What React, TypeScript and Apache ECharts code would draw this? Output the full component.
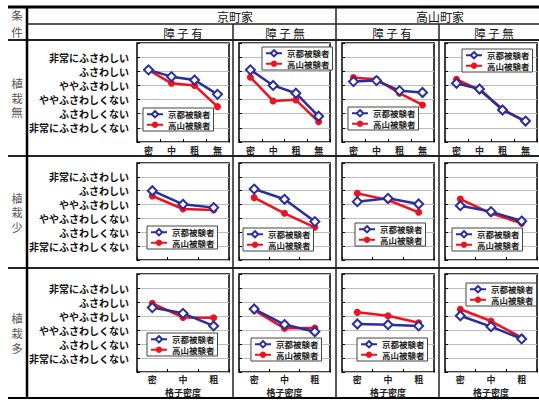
import React, { useEffect, useRef } from 'react';
import * as echarts from 'echarts';

const FONT = '"Noto Sans CJK JP", "Noto Sans", sans-serif';
const BLUE = '#2a2e9c';
const RED = '#f0101e';

const houses = ['京町家', '高山町家'];
const shojiLabels = ['障 子 有', '障 子 無', '障 子 有', '障 子 無'];
const conditionLabel = ['条', '件'];
const plantLabels = [['植', '栽', '無'], ['植', '栽', '少'], ['植', '栽', '多']];
const densityCats4 = ['密', '中', '粗', '無'];
const densityCats3 = ['密', '中', '粗'];
const ratingLabels = ['非常にふさわしくない', 'ふさわしくない', 'ややふさわしくない', 'ややふさわしい', 'ふさわしい', '非常にふさわしい'];
const seriesNames = ['京都被験者', '高山被験者'];
const xAxisTitle = '格子密度';

// columns: 京町家 障子有, 京町家 障子無, 高山町家 障子有, 高山町家 障子無
// 植栽無
const kyotoPlantNone = [[5.1, 4.62, 4.38, 3.37], [5.1, 4.0, 3.45, 1.82], [4.27, 4.34, 3.63, 3.5], [4.15, 3.75, 2.26, 1.48]];
const takayamaPlantNone = [[5.1, 4.15, 4.0, 2.5], [4.58, 2.9, 2.98, 1.43], [4.55, 4.43, 3.45, 2.62], [4.43, 3.68, 2.33, 1.44]];
// 植栽少
const kyotoPlantFew = [[5.0, 4.02, 3.78], [5.12, 4.38, 2.77], [4.21, 4.45, 4.04], [3.92, 3.49, 2.81]];
const takayamaPlantFew = [[4.62, 3.68, 3.61], [4.5, 3.37, 2.36], [4.81, 4.33, 3.44], [4.4, 3.37, 2.65]];
// 植栽多
const kyotoPlantMany = [[4.6, 4.19, 3.29], [4.5, 3.39, 2.87], [3.43, 3.38, 3.29], [4.02, 3.24, 2.36]];
const takayamaPlantMany = [[4.9, 3.9, 3.88], [4.42, 3.12, 3.14], [4.26, 4.02, 3.52], [4.48, 3.64, 2.45]];

const kyotoRows = [kyotoPlantNone, kyotoPlantFew, kyotoPlantMany];
const takayamaRows = [takayamaPlantNone, takayamaPlantFew, takayamaPlantMany];

// layout
const colX = [[137, 92], [239, 91], [342, 92], [445, 92]];
const rowY = [[43, 99], [163, 97], [274, 98]];
const legendPos = [
  [[143, 108], [262, 47], [348, 107], [462, 49]],
  [[147, 226], [243, 228], [355, 223], [452, 228]],
  [[147, 333], [251, 338], [357, 338], [466, 283]],
];
const plantLabelY = [[83, 97.5, 112], [197.5, 212, 226.5], [318, 333, 347.5]];

function buildOption() {
  const grid: any[] = [];
  const xAxis: any[] = [];
  const yAxis: any[] = [];
  const series: any[] = [];
  const legend: any[] = [];
  for (let r = 0; r < 3; r++) {
    for (let c = 0; c < 4; c++) {
      const idx = r * 4 + c;
      const cats = r === 0 ? densityCats4 : densityCats3;
      grid.push({
        left: colX[c][0], top: rowY[r][0], width: colX[c][1], height: rowY[r][1],
        show: true, borderColor: '#000', borderWidth: 1.5, backgroundColor: '#fff',
      });
      xAxis.push({
        gridIndex: idx, type: 'category', data: cats, boundaryGap: true,
        axisLine: { show: false },
        axisTick: { show: true, inside: true, length: 3, lineStyle: { color: '#000' } },
        axisLabel: { show: r !== 1, fontSize: 9, fontWeight: 'bold', color: '#222', margin: r === 0 ? 4 : 3, fontFamily: FONT },
        name: r === 2 ? xAxisTitle : '', nameLocation: 'middle', nameGap: 16,
        nameTextStyle: { fontSize: 9, fontWeight: 'bold', color: '#222', fontFamily: FONT },
        splitLine: { show: false },
      });
      yAxis.push({
        gridIndex: idx, type: 'value', min: 0, max: 7, interval: 1,
        axisLine: { show: false },
        axisTick: { show: true, inside: true, length: 3, lineStyle: { color: '#000' } },
        axisLabel: {
          show: c === 0, fontSize: 10, fontWeight: 'bold', color: '#111', margin: 8, fontFamily: FONT,
          formatter: (v: number) => (v >= 1 && v <= 6 ? ratingLabels[v - 1] : ''),
        },
        splitLine: { show: true, lineStyle: { color: '#bdbdbd', width: 1 } },
      });
      series.push({
        type: 'line', name: seriesNames[1], xAxisIndex: idx, yAxisIndex: idx,
        data: takayamaRows[r][c], symbol: 'circle', symbolSize: 7,
        lineStyle: { color: RED, width: 2.5 }, itemStyle: { color: RED }, z: 2,
      });
      series.push({
        type: 'line', name: seriesNames[0], xAxisIndex: idx, yAxisIndex: idx,
        data: kyotoRows[r][c], symbol: 'emptyDiamond', symbolSize: 9,
        lineStyle: { color: BLUE, width: 2.5 },
        itemStyle: { color: BLUE, borderColor: BLUE, borderWidth: 2 }, z: 3,
      });
      legend.push({
        left: legendPos[r][c][0], top: legendPos[r][c][1], orient: 'vertical',
        data: seriesNames, itemWidth: 16, itemHeight: 8, itemGap: 2, padding: [2, 3],
        backgroundColor: '#fff', borderColor: '#444', borderWidth: 1,
        textStyle: { fontSize: 8.5, fontWeight: 'bold', color: '#222', fontFamily: FONT }, selectedMode: false,
      });
    }
  }

  const line = (x1: number, y1: number, x2: number, y2: number, w: number, color = '#222') => ({
    type: 'line', shape: { x1, y1, x2, y2 }, style: { stroke: color, lineWidth: w }, z: 10,
  });
  const text = (t: string, x: number, y: number, size: number, color: string) => ({
    type: 'text', x, y, z: 10,
    style: {
      text: t, fill: color, fontSize: size, fontFamily: FONT,
      textAlign: 'center', textVerticalAlign: 'middle', align: 'center', verticalAlign: 'middle',
    },
  });

  const graphic: any[] = [
    line(8, 7, 539, 7, 3, '#000'),
    line(27, 24, 539, 24, 1.5),
    line(8, 40, 539, 40, 2),
    line(8, 156, 539, 156, 2),
    line(8, 268, 539, 268, 2),
    line(8, 398, 539, 398, 2, '#000'),
    line(27, 7, 27, 398, 2.5, '#000'),
    line(233, 24, 233, 398, 1.5),
    line(336, 7, 336, 398, 1.5),
    line(439, 24, 439, 398, 1.5),
    text(conditionLabel[0], 17, 15, 11.5, '#555'),
    text(conditionLabel[1], 17, 32, 11.5, '#555'),
    text(houses[0], 235, 16, 12, '#111'),
    text(houses[1], 440, 16, 12, '#111'),
    text(shojiLabels[0], 183, 32.5, 11.5, '#111'),
    text(shojiLabels[1], 285, 32.5, 11.5, '#111'),
    text(shojiLabels[2], 392, 32.5, 11.5, '#111'),
    text(shojiLabels[3], 494, 32.5, 11.5, '#111'),
  ];
  for (let r = 0; r < 3; r++) {
    for (let k = 0; k < 3; k++) {
      graphic.push(text(plantLabels[r][k], 17, plantLabelY[r][k], r === 1 ? 11 : 11.5, '#555'));
    }
  }

  return { animation: false, grid, xAxis, yAxis, series, legend, graphic };
}

export default function App() {
  const ref = useRef<HTMLDivElement>(null);
  useEffect(() => {
    if (!ref.current) return;
    const chart = echarts.init(ref.current, undefined, { renderer: 'svg' });
    chart.setOption(buildOption() as any);
    return () => chart.dispose();
  }, []);
  return <div ref={ref} style={{ position: 'absolute', left: 0, top: 0, width: 539, height: 400, background: '#fff' }} />;
}
